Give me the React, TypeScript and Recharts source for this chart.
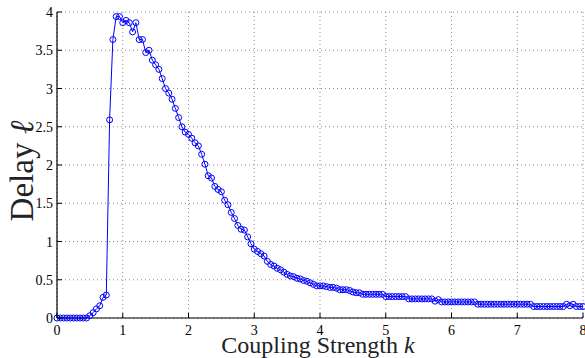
import { LineChart, Line, XAxis, YAxis, CartesianGrid } from 'recharts';

// coupling strength sampled every 0.05 from 0 to 8
const K_STEP = 0.05;

// delay, one value per sample of k
const delay = [
  0, 0, 0, 0, 0, 0, 0, 0, 0, 0,
  0.03, 0.07, 0.12, 0.16, 0.27, 0.3,
  2.59, 3.64, 3.94, 3.94, 3.86, 3.89, 3.86, 3.74, 3.86, 3.64, 3.64, 3.47, 3.5, 3.37,
  3.31, 3.25, 3.13, 3.0, 2.94, 2.86, 2.74, 2.62, 2.5, 2.43,
  2.4, 2.35, 2.29, 2.25, 2.14, 2.01, 1.86, 1.83, 1.72, 1.68,
  1.65, 1.54, 1.48, 1.38, 1.3, 1.21, 1.16, 1.15, 1.06, 0.97,
  0.9, 0.87, 0.84, 0.81, 0.74, 0.7, 0.68, 0.65, 0.63, 0.6,
  0.57, 0.55, 0.54, 0.52, 0.51, 0.49, 0.48, 0.46, 0.44, 0.42,
  0.42, 0.42, 0.41, 0.4, 0.4, 0.39, 0.37, 0.37, 0.37, 0.36,
  0.34, 0.33, 0.33, 0.31, 0.31, 0.31, 0.31, 0.31, 0.31, 0.31,
  0.28, 0.28, 0.28, 0.28, 0.28, 0.28, 0.28,
  0.25, 0.25, 0.25, 0.25, 0.25, 0.25, 0.25, 0.25,
  0.22, 0.24,
  0.21, 0.21, 0.21, 0.21, 0.21, 0.21, 0.21, 0.21, 0.21, 0.21, 0.21,
  0.18, 0.18, 0.18, 0.18, 0.18, 0.18, 0.18, 0.18, 0.18, 0.18, 0.18, 0.18, 0.18, 0.18, 0.18, 0.18, 0.18,
  0.15, 0.15, 0.15, 0.15, 0.15, 0.15, 0.15, 0.15, 0.15, 0.15,
  0.18, 0.16, 0.18, 0.15, 0.15, 0.15,
];

const xTicks = [0, 1, 2, 3, 4, 5, 6, 7, 8];
const yTicks = [0, 0.5, 1, 1.5, 2, 2.5, 3, 3.5, 4];

const rows = delay.map((d, i) => ({ k: +(i * K_STEP).toFixed(2), delay: d }));

const FONT = '"Liberation Serif", "Times New Roman", serif';
const TICK_LEN = 5;

function BottomTick({ x, y, payload }: any) {
  return (
    <g>
      <line x1={x} y1={y} x2={x} y2={y - TICK_LEN} stroke="#000" />
      <text x={x} y={y + 17} textAnchor="middle" style={{ fontFamily: FONT, fontSize: 14 }} fill="#000">
        {payload.value}
      </text>
    </g>
  );
}

function LeftTick({ x, y, payload }: any) {
  return (
    <g>
      <line x1={x} y1={y} x2={x + TICK_LEN} y2={y} stroke="#000" />
      <text x={x - 4} y={y + 5} textAnchor="end" style={{ fontFamily: FONT, fontSize: 14 }} fill="#000">
        {payload.value}
      </text>
    </g>
  );
}

function TopTick({ x, y }: any) {
  return <line x1={x} y1={y} x2={x} y2={y + TICK_LEN} stroke="#000" />;
}

function RightTick({ x, y }: any) {
  return <line x1={x} y1={y} x2={x - TICK_LEN} y2={y} stroke="#000" />;
}

export default function App() {
  return (
    <div style={{ width: 585, height: 358, background: '#fff', position: 'relative' }}>
      <style>{`body { margin: 0; }`}</style>
      <LineChart
        width={585}
        height={358}
        data={rows}
        margin={{ top: 12, right: 2, left: 0, bottom: 0 }}
      >
        <CartesianGrid stroke="#888" strokeDasharray="1 3" />
        <XAxis
          dataKey="k"
          type="number"
          domain={[0, 8]}
          ticks={xTicks}
          height={40}
          tickSize={0}
          tickMargin={0}
          tick={<BottomTick />}
          axisLine={{ stroke: '#000', strokeWidth: 1.2 }}
          tickLine={false}
          interval={0}
        />
        <XAxis
          xAxisId="top"
          orientation="top"
          dataKey="k"
          type="number"
          domain={[0, 8]}
          ticks={xTicks}
          height={0}
          tickSize={0}
          tickMargin={0}
          tick={<TopTick />}
          axisLine={{ stroke: '#000', strokeWidth: 1.2 }}
          tickLine={false}
          interval={0}
        />
        <YAxis
          type="number"
          domain={[0, 4]}
          ticks={yTicks}
          width={57}
          tickSize={0}
          tickMargin={0}
          tick={<LeftTick />}
          axisLine={{ stroke: '#000', strokeWidth: 1.2 }}
          tickLine={false}
          interval={0}
        />
        <YAxis
          yAxisId="right"
          orientation="right"
          type="number"
          domain={[0, 4]}
          ticks={yTicks}
          width={0}
          tickSize={0}
          tickMargin={0}
          tick={<RightTick />}
          axisLine={{ stroke: '#000', strokeWidth: 1.2 }}
          tickLine={false}
          interval={0}
        />
        <Line
          dataKey="delay"
          type="linear"
          stroke="#0000ff"
          strokeWidth={1}
          dot={{ r: 3, stroke: '#0000ff', strokeWidth: 1, fill: 'none' }}
          activeDot={false}
          isAnimationActive={false}
        />
      </LineChart>
      <div
        style={{
          position: 'absolute',
          left: 0,
          top: 0,
          width: 585,
          height: 358,
          pointerEvents: 'none',
        }}
      >
        <svg width={585} height={358}>
          <text
            x={318}
            y={353}
            textAnchor="middle"
            style={{ fontFamily: FONT, fontSize: 24 }}
            fill="#222"
          >
            Coupling Strength <tspan fontStyle="italic">k</tspan>
          </text>
          <text
            transform="translate(33, 171) rotate(-90)"
            textAnchor="middle"
            style={{ fontFamily: FONT, fontSize: 33 }}
            fill="#222"
          >
            Delay <tspan fontStyle="italic">ℓ</tspan>
          </text>
        </svg>
      </div>
    </div>
  );
}
